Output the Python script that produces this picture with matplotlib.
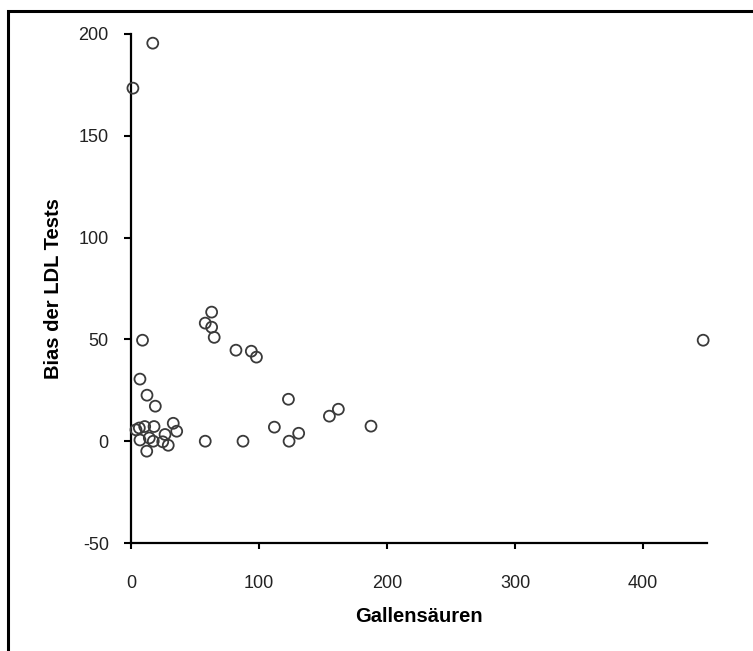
import matplotlib
matplotlib.use("Agg")
import matplotlib.pyplot as plt
from matplotlib.patches import Rectangle

plt.rcParams['font.family'] = ['Liberation Sans', 'DejaVu Sans']
plt.rcParams['axes.unicode_minus'] = False

# Gallensäuren (x) vs. Bias der LDL Tests (y)
gallensaeuren = [17, 1.5, 447, 9, 58, 63, 63, 65, 82, 94, 98,
                 7, 12.5, 19, 123, 162, 155, 187.5, 112, 131, 123.5, 87.5, 58,
                 3.9, 6.5, 10.7, 18, 33, 35.7, 26.6, 7, 14.3, 17.4, 24.8, 29.1, 12.3]
bias_ldl = [195.5, 173.4, 49.6, 49.6, 58, 63.4, 56, 51, 44.7, 44.2, 41.3,
            30.5, 22.6, 17.2, 20.6, 15.7, 12.3, 7.4, 6.9, 3.9, 0, 0, 0,
            5.6, 6.5, 7.2, 7.2, 8.8, 4.9, 3.3, 0.6, 1.6, 0, -0.3, -2, -4.9]

x_ticks = [0, 100, 200, 300, 400]
y_ticks = [-50, 0, 50, 100, 150, 200]

fig = plt.figure(figsize=(7.53, 6.51), dpi=100)
ax = fig.add_axes([131/753, 1 - 543/651, (707 - 131)/753, (543 - 34)/651])

ax.scatter(gallensaeuren, bias_ldl, s=62, facecolors='none',
           edgecolors='#3a3a3a', linewidths=1.3, zorder=3, clip_on=False)

ax.set_xlim(0, 450)
ax.set_ylim(-50, 200)
ax.set_xticks(x_ticks)
ax.set_yticks(y_ticks)

for side in ('top', 'right'):
    ax.spines[side].set_visible(False)
for side in ('left', 'bottom'):
    ax.spines[side].set_linewidth(1.6)
    ax.spines[side].set_color('black')

ax.tick_params(axis='y', direction='out', length=5, width=1.5, pad=11,
               labelsize=13, colors='black', labelcolor='#222222')
ax.tick_params(axis='x', direction='out', length=4, width=1.5, pad=19,
               labelsize=13, colors='black', labelcolor='#222222')

ax.set_xlabel('Gallensäuren', fontsize=14.5, fontweight='bold', labelpad=11)
ax.set_ylabel('Bias der LDL Tests', fontsize=14.5, fontweight='bold', labelpad=11)

# outer frame around the chart area
fig.patches.append(Rectangle((8/753, -0.1), 1.2, 1 - 11/651 + 0.1,
                             transform=fig.transFigure, fill=False,
                             edgecolor='black', linewidth=2.2, zorder=0))

fig.savefig('out.png', dpi=100, facecolor='white')
